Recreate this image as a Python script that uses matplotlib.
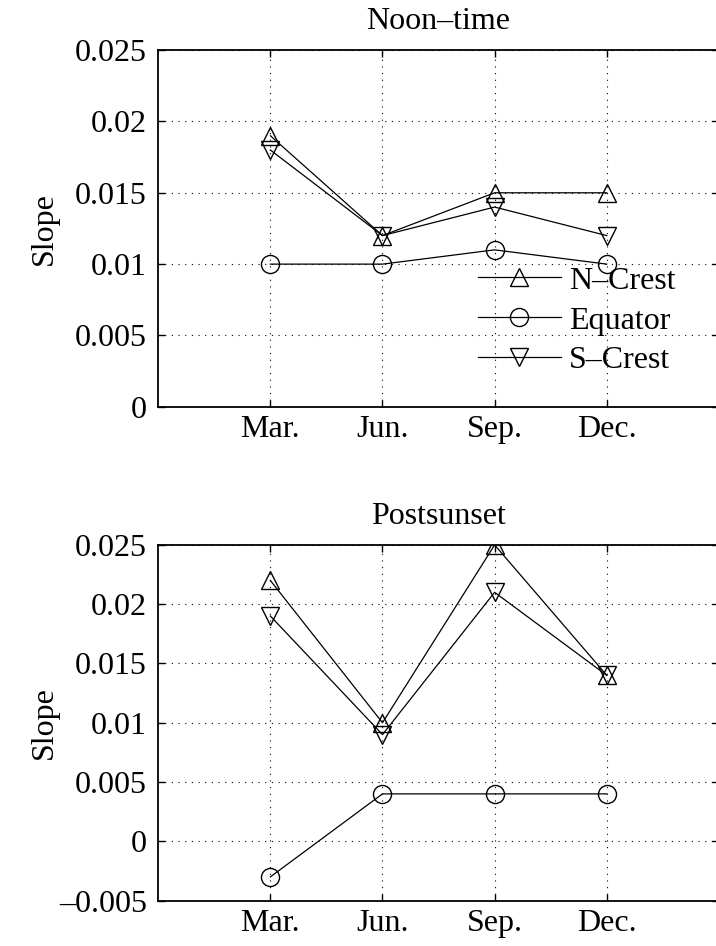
import matplotlib.pyplot as plt
import numpy as np

# seasons on the x axis
months = ['Mar.', 'Jun.', 'Sep.', 'Dec.']
xpos = [1, 2, 3, 4]

# Noon-time slopes
noon_ncrest = [0.019, 0.012, 0.015, 0.015]
noon_equator = [0.010, 0.010, 0.011, 0.010]
noon_screst = [0.018, 0.012, 0.014, 0.012]

# Postsunset slopes
post_ncrest = [0.022, 0.010, 0.025, 0.014]
post_equator = [-0.003, 0.004, 0.004, 0.004]
post_screst = [0.019, 0.009, 0.021, 0.014]

noon_yticks = [0, 0.005, 0.01, 0.015, 0.02, 0.025]
noon_ylabels = ['0', '0.005', '0.01', '0.015', '0.02', '0.025']
post_yticks = [-0.005, 0, 0.005, 0.01, 0.015, 0.02, 0.025]
post_ylabels = ['\u20130.005', '0', '0.005', '0.01', '0.015', '0.02', '0.025']

FS = 23
plt.rcParams['font.family'] = ['Liberation Serif', 'DejaVu Serif']
plt.rcParams['font.size'] = FS

fig = plt.figure(figsize=(7.16, 9.46), dpi=100)
ax1 = fig.add_axes([0.221, 0.570, 0.783, 0.377])
ax2 = fig.add_axes([0.221, 0.048, 0.783, 0.376])

mk = dict(color='black', linewidth=0.9, markersize=13, markerfacecolor='none',
          markeredgewidth=1.0)


def style(ax, title, yticks, ylabels, ylim):
    ax.set_xlim(0, 5)
    ax.set_ylim(*ylim)
    ax.set_xticks(xpos)
    ax.set_xticklabels(months)
    ax.set_yticks(yticks)
    ax.set_yticklabels(ylabels)
    ax.set_ylabel('Slope')
    ax.yaxis.set_label_coords(-0.178, 0.5)
    ax.set_title(title, fontsize=FS, pad=15)
    ax.grid(True, linestyle=(0, (1, 5)), color='black', linewidth=0.8)
    ax.tick_params(direction='in', length=5, width=1, top=True, right=True)
    ax.tick_params(axis='x', pad=6)
    ax.tick_params(axis='y', pad=8)
    for s in ax.spines.values():
        s.set_linewidth(1.3)


ax1.plot(xpos, noon_ncrest, marker='^', label='N\u2013Crest', **mk)
ax1.plot(xpos, noon_equator, marker='o', label='Equator', **mk)
ax1.plot(xpos, noon_screst, marker='v', label='S\u2013Crest', **mk)
style(ax1, 'Noon\u2013time', noon_yticks, noon_ylabels, (0, 0.025))
ax1.legend(loc='center left', bbox_to_anchor=(0.57, 0.241), frameon=False,
           handlelength=2.6, borderpad=0, borderaxespad=0, labelspacing=0.33,
           handletextpad=0.25, fontsize=FS)

ax2.plot(xpos, post_ncrest, marker='^', **mk)
ax2.plot(xpos, post_equator, marker='o', **mk)
ax2.plot(xpos, post_screst, marker='v', **mk)
style(ax2, 'Postsunset', post_yticks, post_ylabels, (-0.005, 0.025))

fig.savefig('out.png', dpi=100)
